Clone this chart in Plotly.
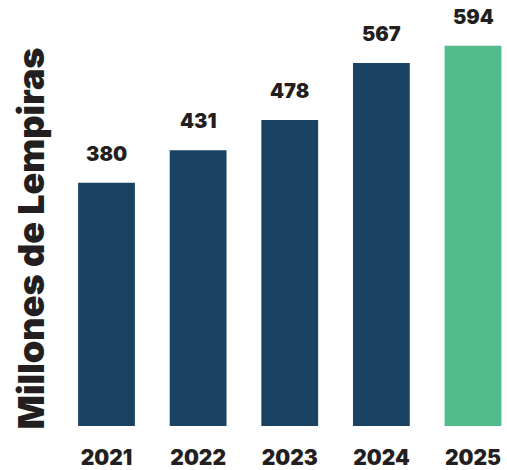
import plotly.graph_objects as go

# Annual amounts, millions of lempiras
years = ["2021", "2022", "2023", "2024", "2025"]
amounts = [380, 431, 478, 567, 594]
bar_colors = ["#1A4263", "#1A4263", "#1A4263", "#1A4263", "#52BB8A"]

axis_title = "Millones de Lempiras"
font_family = "Inter"
text_color = "#231F20"

fig = go.Figure(
    go.Bar(
        x=years,
        y=amounts,
        marker=dict(color=bar_colors, line=dict(width=0)),
        width=0.62,
        hoverinfo="x+y",
    )
)

# Value labels sitting above each bar (category index positions)
for i, val in enumerate(amounts):
    fig.add_annotation(
        x=i, y=val, xref="x", yref="y", text=str(val), showarrow=False,
        yanchor="bottom", yshift=15,
        font=dict(family=font_family, size=20, color=text_color, weight=900),
    )

# Rotated axis title on the left
fig.add_annotation(
    xref="paper", yref="paper", x=-0.065, y=0.44,
    text=axis_title, textangle=-90, showarrow=False,
    xanchor="center", yanchor="middle",
    font=dict(family=font_family, size=36, color=text_color, weight=900),
)

fig.update_layout(
    width=507, height=470,
    margin=dict(l=60, r=0, t=0, b=44),
    paper_bgcolor="white", plot_bgcolor="white",
    showlegend=False,
    xaxis=dict(
        type="category", range=[-0.5075, 4.371],
        showgrid=False, zeroline=False, showline=False, ticks="",
        ticklabelstandoff=17,
        tickfont=dict(family=font_family, size=21, color=text_color, weight=900),
    ),
    yaxis=dict(
        range=[0, 665.6], visible=False,
    ),
)

fig.write_html("out.html")
